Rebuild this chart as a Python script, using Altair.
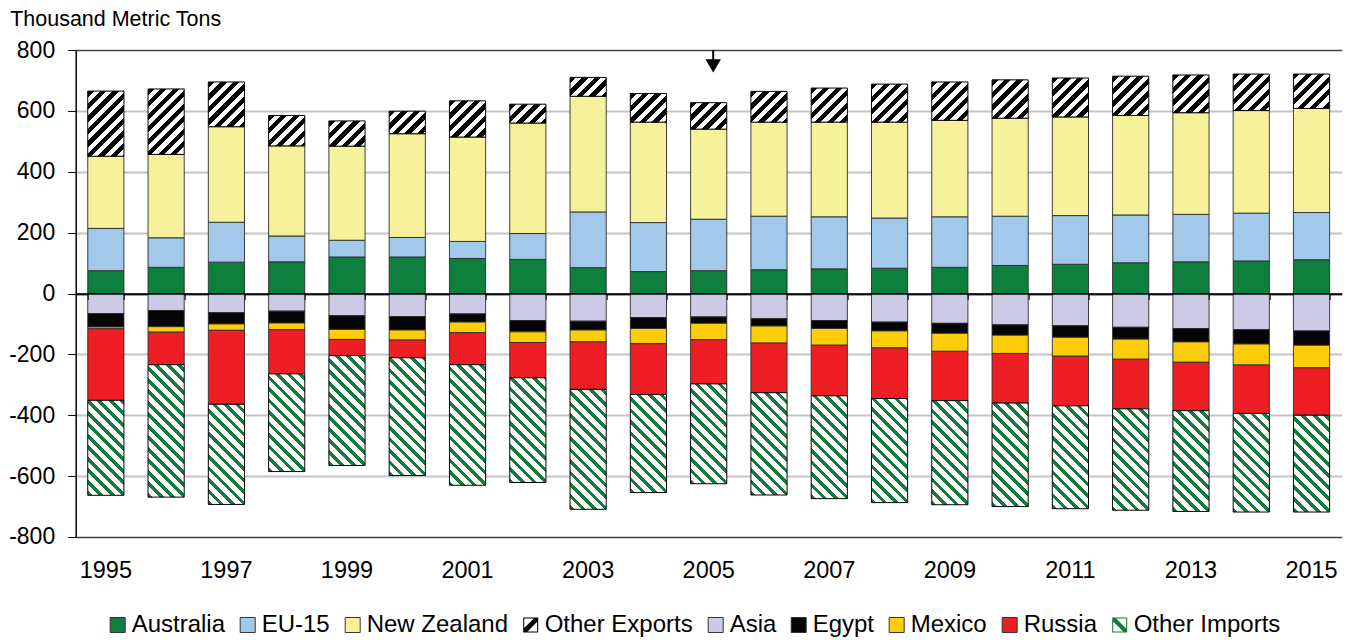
import altair as alt
import pandas as pd

# ---------------- data ----------------
years = list(range(1995, 2016))
series_names = ["Australia", "EU-15", "New Zealand", "Other Exports",
                "Asia", "Egypt", "Mexico", "Russia", "Other Imports"]

australia = [75, 86, 103, 104, 120, 120, 115, 112, 85, 72, 75, 78, 81, 83, 86, 92, 96, 101, 104, 107, 111]
eu15 = [139, 97, 131, 85, 55, 64, 56, 85, 183, 161, 169, 176, 171, 165, 166, 162, 160, 157, 156, 157, 155]
new_zealand = [237, 274, 314, 296, 309, 341, 343, 363, 380, 330, 296, 309, 311, 315, 317, 322, 324, 327, 334, 337, 342]
other_exports = [214, 215, 147, 100, 83, 74, 119, 62, 62, 94, 87, 101, 112, 125, 126, 126, 128, 129, 124, 120, 113]
asia = [-66, -56, -63, -58, -73, -76, -67, -89, -91, -79, -77, -83, -89, -94, -98, -103, -106, -111, -115, -119, -123]
egypt = [-44, -53, -37, -39, -45, -44, -27, -37, -29, -36, -21, -24, -26, -29, -33, -34, -38, -39, -44, -47, -47]
mexico = [-6, -18, -21, -22, -33, -33, -35, -35, -39, -50, -54, -56, -55, -56, -59, -60, -62, -66, -67, -69, -74]
russia = [-235, -107, -243, -145, -53, -58, -105, -116, -156, -167, -145, -163, -166, -166, -162, -163, -163, -163, -159, -159, -156]
other_imports = [-312, -435, -329, -321, -361, -387, -396, -344, -394, -322, -328, -336, -338, -342, -342, -340, -338, -333, -331, -324, -318]

label_years = [1995, 1997, 1999, 2001, 2003, 2005, 2007, 2009, 2011, 2013, 2015]
y_ticks = [-800, -600, -400, -200, 0, 200, 400, 600, 800]

# annotation arrow (start of projections)
arrow_year = [2005]
arrow_start = [800]
arrow_end = [762]
arrow_head = [748]

series_values = [australia, eu15, new_zealand, other_exports,
                 asia, egypt, mexico, russia, other_imports]
rows = []
for order, (name, vals) in enumerate(zip(series_names, series_values)):
    for yr, v in zip(years, vals):
        rows.append({"year": yr, "series": name, "value": v, "order": order})
df = pd.DataFrame(rows)
arrow_df = pd.DataFrame({"year": arrow_year, "start": arrow_start,
                         "end": arrow_end, "head": arrow_head})

# ---------------- styling ----------------
FONT = "Liberation Sans"
PLOT_W, PLOT_H = 1266, 487
fill_colors = ["#0F7F3E", "#A2C8EA", "#F6F29B", "#000000",
               "#CDCAE5", "#050505", "#FDCC0A", "#ED1F24", "#157A3C"]
stroke_colors = ["#333333"] * 3 + ["transparent"] + ["#333333"] * 4 + ["transparent"]
hatched = ["Other Exports", "Other Imports"]
solid = [s for s in series_names if s not in hatched]


def orient_poly(pts, positive=True):
    a = sum(pts[i][0] * pts[(i + 1) % len(pts)][1] - pts[(i + 1) % len(pts)][0] * pts[i][1]
            for i in range(len(pts)))
    if (a > 0) != positive:
        pts = pts[::-1]
    return pts


def poly_path(pts):
    return "M" + "L".join(f"{x:.3f},{y:.3f}" for x, y in pts) + "Z"


def hatch_symbol(direction, d, ring=0.14):
    outer = orient_poly([(-1, -1), (1, -1), (1, 1), (-1, 1)], True)
    r = 1 - ring
    inner = orient_poly([(-r, -r), (r, -r), (r, r), (-r, r)], False)
    if direction == "/":
        band = [(-1, 1 - d), (-1, 1), (d - 1, 1), (1, d - 1), (1, -1), (1 - d, -1)]
    else:
        band = [(-1, -1), (d - 1, -1), (1, 1 - d), (1, 1), (1 - d, 1), (-1, d - 1)]
    band = orient_poly(band, True)
    return poly_path(outer) + poly_path(inner) + poly_path(band)


shape_range = ["square", "square", "square", hatch_symbol("/", 0.45),
               "square", "square", "square", "square", hatch_symbol("\\", 0.40)]

# per-bar diagonal stripe gradients (45 degrees in pixel space)
BAR_W = PLOT_W / 21 * 0.6
PX = PLOT_H / 1600
L = 260.0


def stripe_stops(c_on, c_off, period, on_frac):
    stops = []
    k = 0
    while k * period / L < 1:
        t0 = k * period / L
        t1 = min((k * period + on_frac * period) / L, 1)
        t2 = min((k + 1) * period / L, 1)
        stops += [(t0, c_on), (t1, c_on), (t1, c_off), (t2, c_off)]
        k += 1
    return "[" + ",".join(f"{{offset:{o:.5f},color:'{c}'}}" for o, c in stops) + "]"


w2 = BAR_W * BAR_W
oe_grad = ("{gradient:'linear',x1:0,y1:0,"
           f"x2:{L * BAR_W:.4f}/({w2:.4f}+datum.h*datum.h),"
           f"y2:{L:.4f}*datum.h/({w2:.4f}+datum.h*datum.h),"
           f"stops:{stripe_stops('#000000', '#ffffff', 12.5, 0.5)}}}")
oi_grad = ("{gradient:'linear',x1:0,y1:1,"
           f"x2:{L * BAR_W:.4f}/({w2:.4f}+datum.h*datum.h),"
           f"y2:1-{L:.4f}*datum.h/({w2:.4f}+datum.h*datum.h),"
           f"stops:{stripe_stops('#157A3C', '#ffffff', 11.5, 0.4)}}}")
grad_expr = f"datum.series == 'Other Exports' ? {oe_grad} : {oi_grad}"

x_scale = alt.Scale(paddingInner=0.4, paddingOuter=0.2)
y_scale = alt.Scale(domain=[-800, 800], nice=False, zero=False)

y_axis = alt.Axis(
    values=y_ticks, labelExpr="datum.value + ''",
    labelFontSize=23, labelFont=FONT, labelColor="#000", labelPadding=13,
    tickSize=8, tickColor="#000", tickWidth=1,
    domainColor="#000", domainWidth=1.5,
    grid=True,
    gridColor={"condition": {"test": "abs(datum.value) == 800 || datum.value == 0", "value": "#404040"},
               "value": "#C4C4C4"},
    gridWidth={"condition": {"test": "abs(datum.value) == 800", "value": 1.5}, "value": 2},
    title="Thousand Metric Tons", titleAngle=0, titleAlign="left",
    titleBaseline="alphabetic", titleX=-66, titleY=-25,
    titleFontSize=21.5, titleFontWeight="normal", titleFont=FONT, titleColor="#000",
)

bottom_axis = alt.Axis(
    orient="bottom", values=label_years, labelAngle=0,
    labelFontSize=23.5, labelFont=FONT, labelColor="#000", labelPadding=22,
    ticks=False, tickSize=0, domain=False, grid=False, title=None,
)

zero_axis = alt.Axis(
    orient="bottom", offset=-PLOT_H / 2, labels=False, ticks=True, tickSize=6,
    tickBand="extent", tickColor="#000", tickWidth=1,
    domain=True, domainColor="#000", domainWidth=1.5, grid=False, title=None, zindex=1,
)

legend_def = alt.Legend(
    orient="none", legendX=30, legendY=563, direction="horizontal", columns=9,
    title=None, labelFontSize=24, labelFont=FONT, labelColor="#000",
    symbolSize=225, symbolStrokeWidth=1, labelOffset=2, columnPadding=10,
    labelLimit=400, padding=0, rowPadding=0,
)

fill_scale = alt.Scale(domain=series_names, range=fill_colors)

base = alt.Chart(df).transform_stack(
    stack="value", groupby=["year"], as_=["y0", "y1"],
    sort=[alt.SortField(field="order", order="ascending")],
)

solid_bars = base.transform_filter(
    alt.FieldOneOfPredicate(field="series", oneOf=solid)
).mark_bar(stroke="#2a2a2a", strokeWidth=0.9).encode(
    x=alt.X("year:O", scale=x_scale, axis=bottom_axis),
    y=alt.Y("y0:Q", scale=y_scale, axis=y_axis),
    y2="y1:Q",
    fill=alt.Fill("series:N", scale=fill_scale, legend=legend_def),
)

hatched_bars = base.transform_filter(
    alt.FieldOneOfPredicate(field="series", oneOf=hatched)
).transform_calculate(
    h=f"abs(datum.value)*{PX:.6f}"
).transform_calculate(
    grad=grad_expr
).mark_bar(stroke="#000", strokeWidth=1).encode(
    x=alt.X("year:O", scale=x_scale, axis=zero_axis),
    y=alt.Y("y0:Q", scale=y_scale, axis=y_axis),
    y2="y1:Q",
    color=alt.Color("grad:N", scale=None, legend=None),
)

legend_points = alt.Chart(df).mark_point(
    filled=True, opacity=1, size=225, clip=True
).encode(
    x=alt.value(-300), y=alt.value(-300),
    fill=alt.Fill("series:N", scale=fill_scale, legend=legend_def),
    stroke=alt.Stroke("series:N", scale=alt.Scale(domain=series_names, range=stroke_colors), legend=legend_def),
    shape=alt.Shape("series:N", scale=alt.Scale(domain=series_names, range=shape_range), legend=legend_def),
)

arrow_rule = alt.Chart(arrow_df).mark_rule(color="#000", strokeWidth=2, xOffset=4.5).encode(
    x=alt.X("year:O", scale=x_scale, axis=None),
    y=alt.Y("start:Q", scale=y_scale, axis=y_axis),
    y2="end:Q",
)
arrow_tip = alt.Chart(arrow_df).mark_point(
    shape="M-1,-0.85L1,-0.85L0,0.85Z", filled=True, color="#000", opacity=1,
    size=240, xOffset=4.5, strokeWidth=0,
).encode(
    x=alt.X("year:O", scale=x_scale, axis=None),
    y=alt.Y("head:Q", scale=y_scale, axis=y_axis),
)

chart = alt.layer(
    solid_bars, hatched_bars, legend_points, arrow_rule, arrow_tip
).resolve_axis(
    x="independent"
).properties(
    width=PLOT_W, height=PLOT_H,
    autosize=alt.AutoSizeParams(type="none"),
    padding={"left": 67.7, "top": 42, "right": 2, "bottom": 100},
).configure(
    font=FONT
).configure_view(
    stroke=None
)

chart.save("out.html", embed_options={"renderer": "svg", "actions": False})
